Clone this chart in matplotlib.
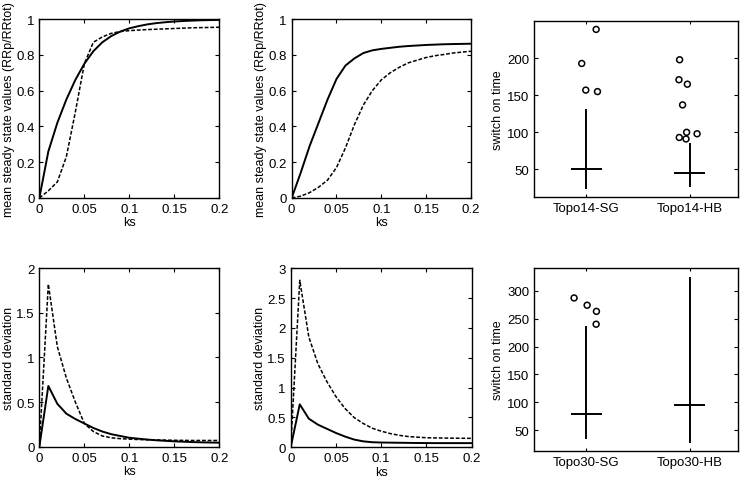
import matplotlib
matplotlib.use("Agg")
import matplotlib.pyplot as plt

plt.rcParams['font.family'] = ['Liberation Sans', 'DejaVu Sans']

# ---- dados ----
ks = [0, 0.01, 0.02, 0.03, 0.04, 0.05, 0.06, 0.07, 0.08, 0.09, 0.10,
      0.11, 0.12, 0.13, 0.14, 0.15, 0.16, 0.17, 0.18, 0.19, 0.20]

media14_sol = [0, 0.26, 0.42, 0.55, 0.66, 0.75, 0.82, 0.87, 0.905, 0.93, 0.948,
               0.96, 0.97, 0.977, 0.982, 0.986, 0.989, 0.991, 0.993, 0.994, 0.995]
media14_tra = [0, 0.04, 0.09, 0.23, 0.48, 0.75, 0.87, 0.9, 0.92, 0.93, 0.935,
               0.938, 0.941, 0.943, 0.945, 0.947, 0.949, 0.951, 0.952, 0.953, 0.954]

media30_sol = [0, 0.14, 0.29, 0.42, 0.55, 0.665, 0.74, 0.78, 0.81, 0.825, 0.833,
               0.839, 0.845, 0.849, 0.852, 0.855, 0.857, 0.859, 0.86, 0.861, 0.862]
media30_tra = [0, 0.01, 0.03, 0.06, 0.1, 0.17, 0.28, 0.41, 0.52, 0.6, 0.66,
               0.7, 0.73, 0.755, 0.77, 0.785, 0.795, 0.802, 0.81, 0.815, 0.82]

desvio14_sol = [0, 0.68, 0.48, 0.37, 0.31, 0.26, 0.21, 0.17, 0.14, 0.12, 0.10,
                0.09, 0.08, 0.072, 0.066, 0.06, 0.056, 0.052, 0.049, 0.047, 0.045]
desvio14_tra = [0, 1.82, 1.12, 0.77, 0.5, 0.26, 0.17, 0.12, 0.1, 0.09, 0.085,
                0.08, 0.078, 0.076, 0.074, 0.072, 0.071, 0.07, 0.07, 0.07, 0.07]

desvio30_sol = [0, 0.72, 0.48, 0.38, 0.31, 0.24, 0.18, 0.13, 0.1, 0.085, 0.08,
                0.078, 0.076, 0.074, 0.072, 0.071, 0.07, 0.07, 0.07, 0.07, 0.07]
desvio30_tra = [0, 2.8, 1.85, 1.4, 1.1, 0.85, 0.65, 0.5, 0.4, 0.32, 0.27,
                0.23, 0.2, 0.18, 0.17, 0.16, 0.157, 0.155, 0.153, 0.151, 0.15]

# boxplots: (minimo, maximo, mediana)
rotulos14 = ['Topo14-SG', 'Topo14-HB']
bigode14 = [(23, 131, 50), (26, 85, 45)]
outl14_x = [1.097, 0.958, 0.997, 1.11, 1.903, 1.897, 1.978, 1.932, 1.971, 1.90, 1.965, 2.072]
outl14_y = [239, 193, 157, 155, 198, 171, 165, 137, 100, 93, 91, 98]

rotulos30 = ['Topo30-SG', 'Topo30-HB']
bigode30 = [(35, 236, 80), (28, 325, 95)]
outl30_x = [0.884, 1.01, 1.10, 1.097]
outl30_y = [287, 274, 263, 240]

fig = plt.figure(figsize=(7.45, 4.81), dpi=100)

def estilo(ax):
    ax.tick_params(direction='in', top=True, right=True, labelsize=9.5, length=3, width=0.8)
    for s in ax.spines.values():
        s.set_linewidth(1.0)

def curvas(pos, sol, tra, ymax, yticks, ylabel):
    ax = fig.add_axes(pos)
    ax.plot(ks, sol, color='black', linewidth=1.4, linestyle='-')
    ax.plot(ks, tra, color='black', linewidth=1.1, linestyle=(0, (2.5, 1.2)))
    ax.set_xlim(0, 0.2)
    ax.set_ylim(0, ymax)
    ax.set_xticks([0, 0.05, 0.1, 0.15, 0.2])
    ax.set_xticklabels(['0', '0.05', '0.1', '0.15', '0.2'])
    ax.set_yticks(yticks)
    ax.set_yticklabels([('%g' % v) for v in yticks])
    ax.set_xlabel('ks', fontsize=9, labelpad=1)
    ax.set_ylabel(ylabel, fontsize=9, labelpad=1)
    estilo(ax)
    return ax

def caixas(pos, rotulos, bigode, ox, oy, ylim, yticks):
    ax = fig.add_axes(pos)
    for i, (lo, hi, med) in enumerate(bigode):
        x = i + 1
        ax.vlines(x, lo, hi, color='black', linewidth=1.4)
        ax.hlines(med, x - 0.15, x + 0.15, color='black', linewidth=1.4)
    ax.scatter(ox, oy, s=18, facecolors='none', edgecolors='black', linewidths=1.1)
    ax.set_xlim(0.5, 2.47)
    ax.set_ylim(*ylim)
    ax.set_xticks([1, 2])
    ax.set_xticklabels(rotulos)
    ax.set_yticks(yticks)
    ax.set_ylabel('switch on time', fontsize=9, labelpad=2)
    estilo(ax)
    ax.tick_params(axis='x', length=2)
    return ax

ylab = 'mean steady state values (RRp/RRtot)'
curvas([0.0528, 0.5863, 0.2416, 0.3721], media14_sol, media14_tra, 1,
       [0, 0.2, 0.4, 0.6, 0.8, 1], ylab)
curvas([0.3915, 0.5863, 0.2407, 0.3721], media30_sol, media30_tra, 1,
       [0, 0.2, 0.4, 0.6, 0.8, 1], ylab)
curvas([0.0528, 0.0692, 0.2416, 0.3715], desvio14_sol, desvio14_tra, 2,
       [0, 0.5, 1, 1.5, 2], 'standard deviation')
curvas([0.3902, 0.0680, 0.2430, 0.3721], desvio30_sol, desvio30_tra, 3,
       [0, 0.5, 1, 1.5, 2, 2.5, 3], 'standard deviation')

caixas([0.7172, 0.5890, 0.2738, 0.3647], rotulos14, bigode14, outl14_x, outl14_y,
       (13, 250), [50, 100, 150, 200])
caixas([0.7172, 0.0609, 0.2738, 0.3798], rotulos30, bigode30, outl30_x, outl30_y,
       (13.5, 340.6), [50, 100, 150, 200, 250, 300])

fig.savefig('out.png', dpi=100)
